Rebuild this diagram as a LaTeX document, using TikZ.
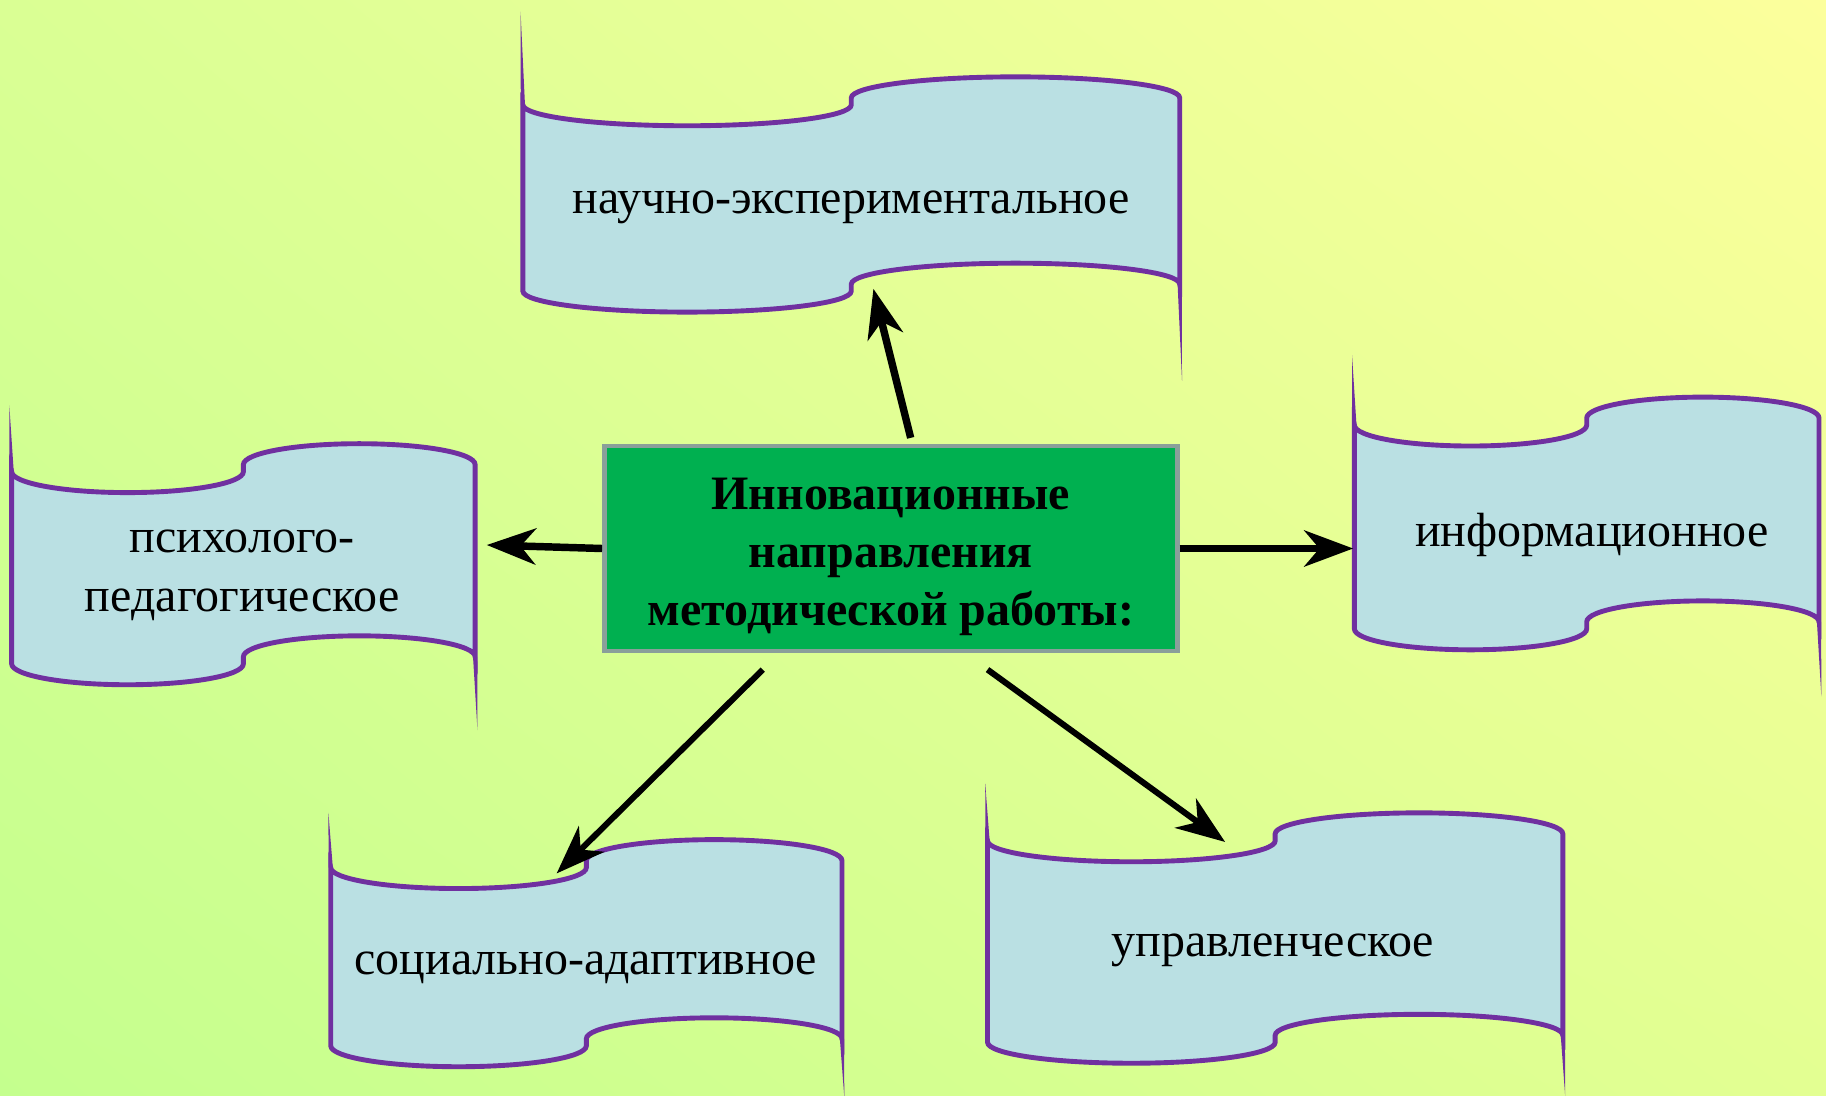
\documentclass[tikz,border=0pt]{standalone}
\usepackage{fontspec}
\setmainfont{Liberation Serif}
\usetikzlibrary{arrows.meta,calc,shadings}

\definecolor{bgul}{RGB}{218,255,148}
\definecolor{bgur}{RGB}{252,255,156}
\definecolor{bgll}{RGB}{196,255,142}
\definecolor{bglr}{RGB}{227,255,146}
\definecolor{flagblue}{RGB}{186,224,227}
\definecolor{flagpurple}{RGB}{112,48,160}
\definecolor{boxgreen}{RGB}{0,176,80}
\definecolor{boxgray}{RGB}{138,159,154}

% waving flag: left x, top y, width, height, upper pole, lower pole
\newcommand{\flag}[6]{%
  \filldraw[flagline] (#1,#2)
    arc[start angle=180, end angle=0, x radius=#3/4, y radius=18] -- ++(0,-6)
    arc[start angle=180, end angle=360, x radius=#3/4, y radius=18] -- ++(0,#4)
    arc[start angle=360, end angle=180, x radius=#3/4, y radius=18] -- ++(0,6)
    arc[start angle=0, end angle=180, x radius=#3/4, y radius=18] -- cycle;
  \fill[flagpurple] (#1-1.8,#2) -- (#1+1.8,#2) -- (#1-2,#2-#5) -- cycle;
  \fill[flagpurple] (#1+#3-1.8,#2+#4-6) -- (#1+#3+1.8,#2+#4-6) -- (#1+#3+2,#2+#4-6+#6) -- cycle;
}

\begin{document}
\begin{tikzpicture}[x=0.5pt, y=-0.5pt,
  flagline/.style={draw=flagpurple, fill=flagblue, line width=2.1pt},
  flagtext/.style={font=\fontsize{20.6}{25}\selectfont, align=center},
  mainbox/.style={draw=boxgray, fill=boxgreen, line width=2pt,
    minimum width=246pt, minimum height=88pt, align=center,
    font=\fontsize{20.6}{25}\selectfont\bfseries},
  arr/.style={-{Stealth[length=21pt, width=15.5pt, inset=6.5pt]}, line width=3.2pt}]

% Background
\shade[upper left=bgul, upper right=bgur, lower left=bgll, lower right=bglr]
  (0,0) rectangle (1568,941);
\useasboundingbox (0,0) rectangle (1568,941);

% Flags
\flag{449}{90}{564}{160}{80}{83}
\flag{10}{405}{398}{165}{57}{63}
\flag{1163}{365}{399}{175}{60}{64}
\flag{284}{745}{439}{153}{47}{50}
\flag{848}{722}{494}{173}{49}{52}

% Flag texts
\node[flagtext] (sci) at (731,178) {научно-экспериментальное};
\node[flagtext] (psy) at (208,494) {психолого-\\педагогическое};
\node[flagtext] (inf) at (1367,459) {информационное};
\node[flagtext] (soc) at (503,831) {социально-адаптивное};
\node[flagtext] (man) at (1093,816) {управленческое};

% Centre box
\node[mainbox] (main) at (765,471) {};
\node[mainbox, draw=none, fill=none] (title) at (765,478) {Инновационные\\направления\\методической работы:};

% Arrow ends
\coordinate (tipSci) at (750,248);
\coordinate (tipPsy) at (418,468);
\coordinate (tipInf) at (1162,471);
\coordinate (tipSoc) at (478,750);
\coordinate (tipMan) at (1052,723);

% Arrows
\draw[arr] ($(main.north)+(17,-5)$) -- (tipSci);
\draw[arr] (main.west) -- (tipPsy);
\draw[arr] (main.east) -- (tipInf);
\draw[arr, line width=2.6pt] ($(main.south)+(-110,14)$) -- (tipSoc);
\draw[arr, line width=2.6pt] ($(main.south)+(83,14)$) -- (tipMan);

\end{tikzpicture}
\end{document}
